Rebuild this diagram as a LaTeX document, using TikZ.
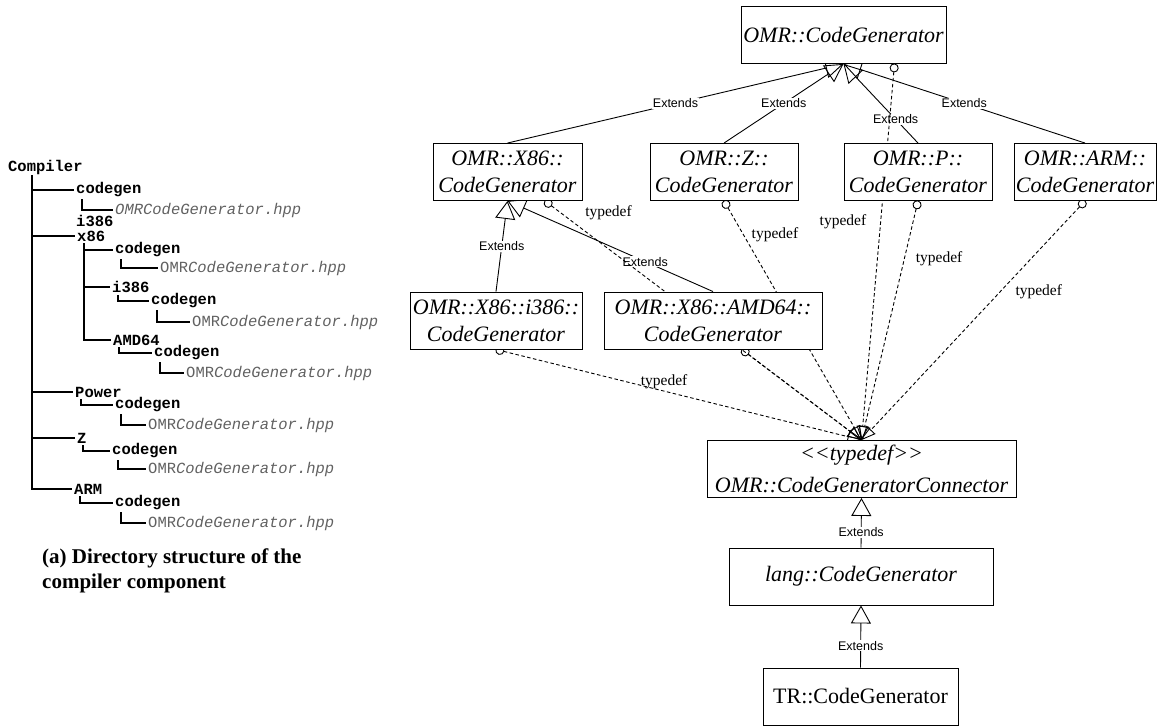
\documentclass[tikz,border=0pt]{standalone}
\usepackage{fontspec}
\setmainfont{Liberation Serif}
\setsansfont{Liberation Sans}
\setmonofont{Liberation Mono}
\usetikzlibrary{arrows.meta, backgrounds}

\tikzset{
  cls/.style={draw, fill=white, line width=0.9pt, inner sep=0pt, align=center,
    minimum height=57pt, font=\fontsize{22}{27}\selectfont\itshape},
  ext/.style={line width=0.9pt, -{Triangle[open, length=18pt, width=20pt]}},
  extlbl/.style={fill=white, inner sep=1pt, font=\sffamily\fontsize{12.5}{14}\selectfont},
  tdef/.style={line width=0.9pt, dash pattern=on 3.5pt off 2.5pt,
    {Circle[open, length=9pt]}-{Triangle[open, length=14pt, width=12pt]}, shorten <=-0.5pt},
  tdlbl/.style={inner sep=0pt, font=\fontsize{15.5}{18}\selectfont},
  dir/.style={anchor=west, inner sep=2pt, font=\ttfamily\bfseries\fontsize{15.5}{18}\selectfont},
  hpp/.style={anchor=west, inner sep=2pt, text=black!62, font=\ttfamily\fontsize{15.5}{18}\selectfont},
  tree/.style={line width=2pt},
}

\begin{document}
\begin{tikzpicture}[x=1pt, y=-1pt]
	
	\useasboundingbox (0,0) rectangle (1157,727);
	
	% directory tree
	\node[dir] (cmp) at (6,167) {Compiler};
	\node[dir] (cg1) at (74,190) {codegen};
	\node[hpp] (f1) at (113,210) {\itshape OMRCodeGenerator.hpp};
	\node[dir] (i386s) at (74,221) {i386};
	\node[dir] (x86) at (75,236) {x86};
	\node[dir] (cg2) at (113,250) {codegen};
	\node[hpp] (f2) at (158,268) {OMR\textit{CodeGenerator.hpp}};
	\node[dir] (i386) at (110,287) {i386};
	\node[dir] (cg3) at (149,301) {codegen};
	\node[hpp] (f3) at (190,322) {OMR\textit{CodeGenerator.hpp}};
	\node[dir] (amd64) at (111,340) {AMD64};
	\node[dir] (cg4) at (152,353) {codegen};
	\node[hpp] (f4) at (184,373) {OMR\textit{CodeGenerator.hpp}};
	\node[dir] (power) at (73,392) {Power};
	\node[dir] (cg5) at (113,405) {codegen};
	\node[hpp] (f5) at (146,425) {OMR\textit{CodeGenerator.hpp}};
	\node[dir] (zdir) at (75,438) {Z};
	\node[dir] (cg6) at (110,451) {codegen};
	\node[hpp] (f6) at (146,469) {OMR\textit{CodeGenerator.hpp}};
	\node[dir] (arm) at (72,489) {ARM};
	\node[dir] (cg7) at (113,503) {codegen};
	\node[hpp] (f7) at (146,523) {OMR\textit{CodeGenerator.hpp}};
	
	\coordinate (trunk) at (32,175);
	\draw[tree] (trunk) |- (arm.west);
	\foreach \n in {cg1, x86, power, zdir}
		\draw[tree] (trunk |- \n.west) -- (\n.west);
	\draw[tree] ([xshift=9pt]x86.south west) |- (amd64.west);
	\foreach \n in {cg2, i386}
		\draw[tree] ([xshift=9pt]x86.south west |- \n.west) -- (\n.west);
	\foreach \a/\b in {cg1/f1, cg2/f2, i386/cg3, cg3/f3, amd64/cg4, cg4/f4,
	                   power/cg5, cg5/f5, zdir/cg6, cg6/f6, arm/cg7, cg7/f7}
		\draw[tree] ([xshift=8pt]\a.south west) |- (\b.west);
	
	\node[anchor=north west, align=left, inner sep=0pt,
	      font=\bfseries\fontsize{21}{25}\selectfont] (cap) at (42,549)
	      {(a) Directory structure of the\\compiler component};
	
	% class boxes
	\node[cls, minimum width=205pt] (base) at (843.5,35) {OMR::CodeGenerator};
	\node[cls, minimum width=149pt] (x86cg) at (507.5,172) {OMR::X86::\\CodeGenerator};
	\node[cls, minimum width=148pt] (zcg) at (724,172) {OMR::Z::\\CodeGenerator};
	\node[cls, minimum width=148pt] (pcg) at (918,172) {OMR::P::\\CodeGenerator};
	\node[cls, minimum width=142pt] (armcg) at (1085,172) {OMR::ARM::\\CodeGenerator};
	\node[cls, minimum width=172pt] (i386cg) at (496,320.5) {OMR::X86::i386::\\CodeGenerator};
	\node[cls, minimum width=218pt] (amdcg) at (713,320.5) {OMR::X86::AMD64::\\CodeGenerator};
	\node[cls, minimum width=309pt] (conn) at (861.5,469) {<{}<typedef>{}>\\[5pt]OMR::CodeGeneratorConnector};
	\node[cls, minimum width=264pt] (lang) at (861,576.5) {lang::CodeGenerator};
	\node[cls, minimum width=195pt, font=\fontsize{22}{27}\selectfont] (tr) at (860.5,696.5) {TR::CodeGenerator};
	
	\begin{scope}[on background layer]
		% extends
		\draw[ext] (x86cg.north) -- node[extlbl]{Extends} (base.south);
		\draw[ext] (zcg.north) -- node[extlbl]{Extends} (base.south);
		\draw[ext] (pcg.north) -- node[extlbl, pos=0.3]{Extends} (base.south);
		\draw[ext] (armcg.north) -- node[extlbl]{Extends} (base.south);
		\draw[ext] (i386cg.north) -- node[extlbl]{Extends} (x86cg.south);
		\draw[ext] (amdcg.north) -- node[extlbl, pos=0.33]{Extends} (x86cg.south);
		\draw[ext] (lang.north) -- node[extlbl, pos=0.31]{Extends} (conn.south);
		\draw[ext] (tr.north) -- node[extlbl, pos=0.35]{Extends} (lang.south);
		
		% typedefs
		\draw[tdef] ([xshift=51pt]base.south) -- node[tdlbl, pos=0.42, left=14pt]{typedef} (conn.north);
		\draw[tdef] ([xshift=37.5pt]x86cg.south) -- node[tdlbl, pos=0.05, right=24pt]{typedef} (conn.north);
		\draw[tdef] (zcg.south) -- node[tdlbl, pos=0.14, right=8pt]{typedef} (conn.north);
		\draw[tdef] (pcg.south) -- node[tdlbl, pos=0.24, right=11pt]{typedef} (conn.north);
		\draw[tdef] (armcg.south) -- node[tdlbl, pos=0.38, right=15pt]{typedef} (conn.north);
		\draw[tdef] (i386cg.south) -- node[tdlbl, pos=0.46, yshift=9pt]{typedef} (conn.north);
		\draw[tdef] ([xshift=29pt]amdcg.south) -- (conn.north);
	\end{scope}
	
\end{tikzpicture}
\end{document}
